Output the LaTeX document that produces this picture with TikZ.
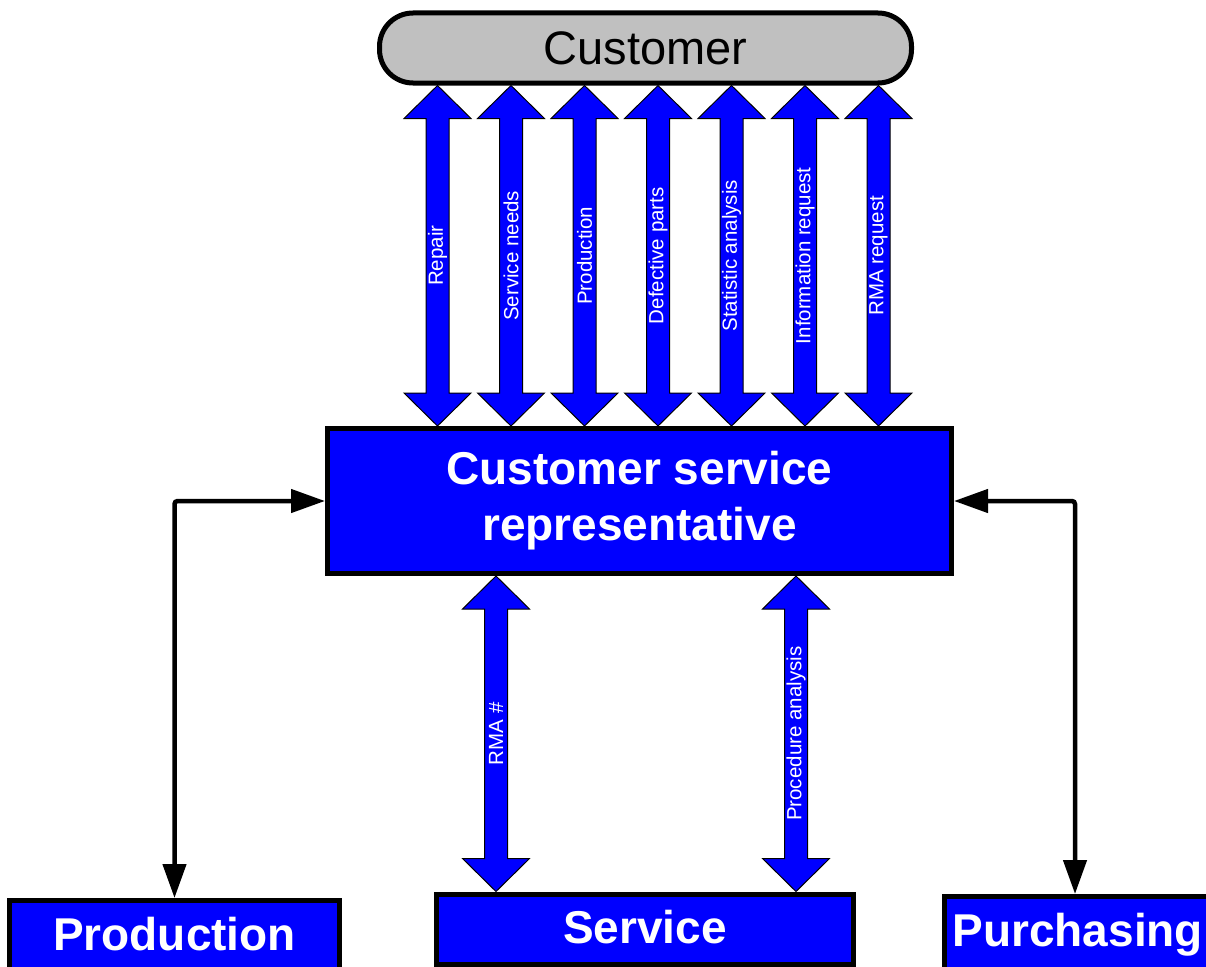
\documentclass[tikz,border=0pt]{standalone}
\usepackage{fontspec}
\setmainfont{Liberation Sans}
\usetikzlibrary{calc,arrows.meta}
\definecolor{myblue}{RGB}{0,0,255}
\definecolor{custgray}{RGB}{192,192,192}
\newcommand\blockarrow[4]{%
  \coordinate (ta) at (#1);
  \coordinate (tb) at (#2);
  \draw[barrow] (ta) -- ($(ta)+(33.5,33)$) -- ($(ta)+(11.5,33)$) -- ($(tb)+(11.5,-33)$)
     -- ($(tb)+(33.5,-33)$) -- (tb) -- ($(tb)+(-33.5,-33)$) -- ($(tb)+(-11.5,-33)$)
     -- ($(ta)+(-11.5,33)$) -- ($(ta)+(-33.5,33)$) -- cycle;
  \node[lbl] (#4) at ($(ta)!0.5!(tb)$) {#3};}
\begin{document}
\begin{tikzpicture}[x=1pt,y=-1pt,
  box/.style={draw=black, line width=5pt, fill=myblue, text=white,
    font=\bfseries\fontsize{46}{56}\selectfont, inner sep=0pt, align=center},
  barrow/.style={draw=black, line width=1pt, fill=myblue, line join=miter},
  lbl/.style={text=white, font=\fontsize{20.5}{24}\selectfont, rotate=90, inner sep=0pt},
  conn/.style={line width=4.5pt, rounded corners=3pt,
    {Triangle[length=34pt,width=23pt]}-{Triangle[length=34pt,width=23pt]}}
]
\useasboundingbox (0,0) rectangle (1206,966);
\clip (0,0) rectangle (1206,966);

% column positions
\coordinate (c1) at (437.5,0);
\coordinate (c2) at (511,0);
\coordinate (c3) at (584.5,0);
\coordinate (c4) at (658,0);
\coordinate (c5) at (731.5,0);
\coordinate (c6) at (805,0);
\coordinate (c7) at (878.5,0);
\coordinate (d1) at (496,0);
\coordinate (d2) at (796,0);
\coordinate (rx) at (1075,0);

\node[draw=black, line width=5pt, fill=custgray, rounded corners=33.5pt,
  minimum width=532pt, minimum height=70pt, inner sep=0pt,
  font=\fontsize{47}{50}\selectfont] (cust) at (645.5,48) {Customer};

\node[box, minimum width=624pt, minimum height=145pt] (csr) at (639.5,501)
  {Customer service\\representative};

\node[box, anchor=base, minimum width=417pt, text height=49pt, text depth=21pt]
  (serv) at (645,943) {Service};
\node[box, anchor=base, minimum width=330pt, text height=49.5pt, text depth=40pt]
  (prod) at (174.5,950) {Production};
\node[box, anchor=base west, inner xsep=8.5pt, text height=49.5pt, text depth=40pt]
  (purch) at (941.5,946) {Purchasing};

\blockarrow{cust.south -| c1}{csr.north -| c1}{Repair}{l1}
\blockarrow{cust.south -| c2}{csr.north -| c2}{Service needs}{l2}
\blockarrow{cust.south -| c3}{csr.north -| c3}{Production}{l3}
\blockarrow{cust.south -| c4}{csr.north -| c4}{Defective parts}{l4}
\blockarrow{cust.south -| c5}{csr.north -| c5}{Statistic analysis}{l5}
\blockarrow{cust.south -| c6}{csr.north -| c6}{Information request}{l6}
\blockarrow{cust.south -| c7}{csr.north -| c7}{RMA request}{l7}

\blockarrow{csr.south -| d1}{serv.north -| d1}{RMA \#}{l8}
\blockarrow{csr.south -| d2}{serv.north -| d2}{Procedure analysis}{l9}

\draw[conn] (prod.north) |- (csr.west);
\draw[conn] (purch.north -| rx) |- (csr.east);
\end{tikzpicture}
\end{document}
